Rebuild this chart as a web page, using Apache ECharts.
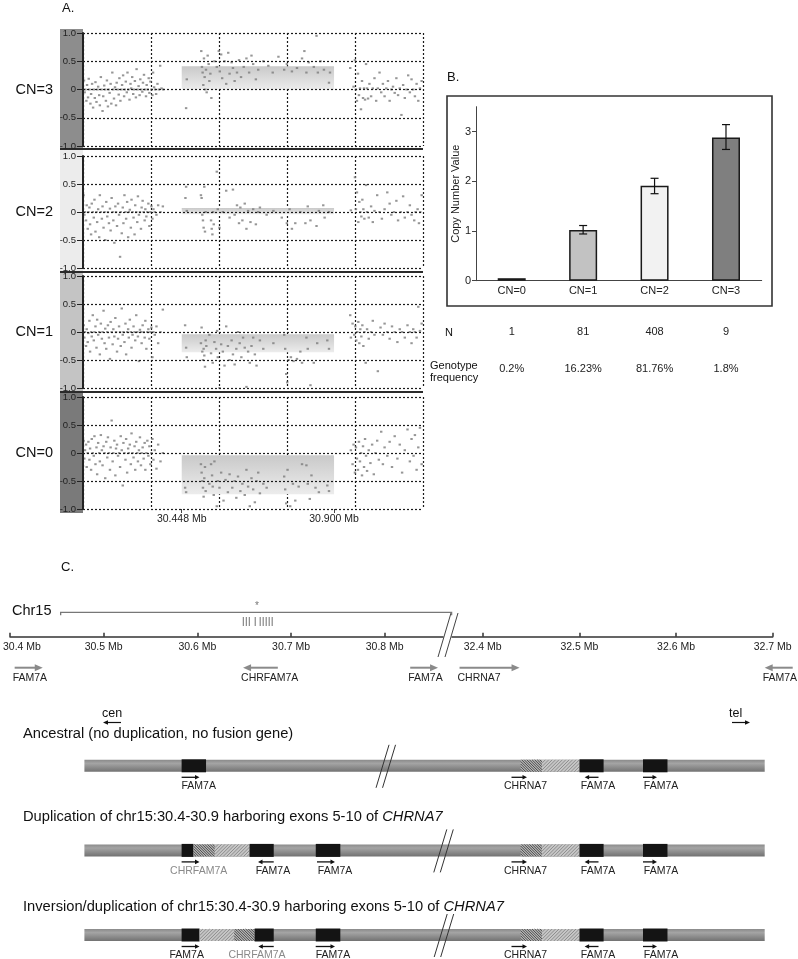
<!DOCTYPE html>
<html>
<head>
<meta charset="utf-8">
<title>CHRFAM7A copy number</title>
<script src="https://cdn.jsdelivr.net/npm/echarts@6.0.0/dist/echarts.min.js"></script>
<style>
html,body{margin:0;padding:0;background:#ffffff;}
#chart{width:798px;height:959px;}
</style>
</head>
<body>
<div id="chart"></div>
<script>
// ================= DATA =================
// Panel A: log2 ratio probes (x = position in Mb, y = log2 ratio)
const panelLabels = ['CN=3', 'CN=2', 'CN=1', 'CN=0'];

const cn3Points = [
[30.158,0.16],[30.160,-0.05],[30.162,0.0],[30.165,-0.2],[30.167,0.08],[30.170,-0.14],[30.172,0.19],[30.174,0.0],[30.177,-0.25],[30.179,-0.08],[30.182,0.1],[30.185,-0.32],[30.187,0.0],[30.190,-0.15],[30.192,0.13],[30.195,-0.22],[30.198,0.0],[30.200,0.05],[30.203,-0.1],[30.205,-0.28],[30.208,0.22],[30.210,0.0],[30.213,-0.38],[30.215,-0.12],[30.218,0.07],[30.221,0.0],[30.223,-0.2],[30.226,0.16],[30.229,-0.3],[30.231,0.0],[30.234,-0.06],[30.237,0.1],[30.239,-0.25],[30.242,0.3],[30.245,0.0],[30.247,-0.16],[30.250,0.04],[30.253,-0.28],[30.255,0.12],[30.258,0.0],[30.261,-0.09],[30.263,0.2],[30.266,-0.2],[30.269,0.0],[30.271,0.08],[30.274,0.25],[30.277,-0.12],[30.279,0.0],[30.282,0.14],[30.285,-0.05],[30.287,0.3],[30.290,0.0],[30.293,-0.18],[30.296,0.1],[30.298,0.02],[30.301,0.22],[30.304,-0.08],[30.306,0.0],[30.309,0.15],[30.312,-0.14],[30.314,0.36],[30.317,0.0],[30.320,0.06],[30.323,-0.1],[30.325,0.18],[30.328,0.0],[30.331,-0.04],[30.333,0.12],[30.336,0.26],[30.339,0.0],[30.342,-0.12],[30.344,0.08],[30.347,0.0],[30.350,0.2],[30.352,-0.06],[30.355,0.14],[30.358,0.0],[30.361,-0.1],[30.363,0.3],[30.366,0.04],[30.369,0.0],[30.372,-0.08],[30.376,0.1],[30.380,0.0],[30.384,0.42],[30.388,0.02],[30.393,0.0],
[30.461,-0.33],[30.463,0.18],[30.506,0.68],[30.508,0.4],[30.510,0.3],[30.512,0.08],[30.514,0.55],[30.516,0.22],[30.518,0.0],[30.520,0.35],[30.522,-0.05],[30.525,0.6],[30.528,0.45],[30.530,0.15],[30.533,0.28],[30.536,-0.15],[30.545,0.5],[30.552,0.4],[30.558,0.68],[30.561,0.32],[30.565,0.62],[30.568,0.2],[30.575,0.5],[30.580,0.1],[30.586,0.65],[30.590,0.28],[30.596,0.48],[30.600,0.38],[30.605,0.15],[30.612,0.3],[30.618,0.52],[30.624,0.22],[30.632,0.4],[30.640,0.55],[30.648,0.3],[30.655,0.6],[30.660,0.45],[30.668,0.18],[30.675,0.35],[30.690,0.5],[30.705,0.42],[30.718,0.3],[30.735,0.58],[30.752,0.35],[30.760,0.45],[30.775,0.32],[30.790,0.38],[30.805,0.55],[30.812,0.68],[30.818,0.3],[30.825,0.48],[30.848,0.95],[30.840,0.4],[30.852,0.3],[30.860,0.5],[30.870,0.35],[30.885,0.12],[30.888,0.3],
[30.948,0.38],[30.958,0.05],[30.962,0.52],[30.965,0.0],[30.968,-0.2],[30.971,0.28],[30.974,-0.1],[30.977,0.02],[30.980,-0.35],[30.983,0.15],[30.986,-0.15],[30.989,0.02],[30.992,-0.18],[30.995,0.45],[30.998,0.02],[31.001,-0.16],[31.005,0.1],[31.010,-0.12],[31.015,0.02],[31.020,0.2],[31.025,-0.2],[31.030,0.02],[31.035,0.3],[31.040,-0.05],[31.045,0.1],[31.050,-0.12],[31.055,0.02],[31.060,0.15],[31.065,-0.2],[31.070,0.0],[31.075,0.05],[31.080,-0.06],[31.085,0.2],[31.090,-0.1],[31.095,0.02],[31.100,-0.45],[31.105,0.08],[31.110,-0.15],[31.115,0.0],[31.120,0.25],[31.125,-0.05],[31.130,0.18],[31.135,0.0],[31.140,-0.12],[31.145,0.1],[31.150,-0.2],[31.155,0.02],[31.160,0.15]
];

const cn2Points = [
[30.157,0.3],[30.159,-0.05],[30.161,0.0],[30.164,-0.15],[30.166,0.12],[30.169,-0.3],[30.171,0.0],[30.174,0.08],[30.176,-0.22],[30.179,-0.4],[30.181,0.15],[30.184,0.0],[30.187,-0.1],[30.189,0.22],[30.192,-0.35],[30.195,0.0],[30.197,-0.18],[30.200,0.05],[30.203,-0.45],[30.205,0.3],[30.208,0.0],[30.211,-0.12],[30.213,0.1],[30.216,-0.28],[30.219,0.0],[30.221,-0.5],[30.224,0.18],[30.227,-0.08],[30.229,0.0],[30.232,-0.2],[30.235,0.06],[30.237,-0.33],[30.240,0.25],[30.243,0.0],[30.245,-0.15],[30.248,-0.55],[30.251,0.1],[30.253,0.0],[30.256,-0.25],[30.259,0.15],[30.262,-0.05],[30.265,-0.8],[30.267,0.0],[30.270,-0.38],[30.273,0.08],[30.275,-0.2],[30.278,0.3],[30.281,0.0],[30.283,-0.12],[30.286,0.18],[30.289,-0.45],[30.291,0.0],[30.294,0.04],[30.297,-0.28],[30.299,0.22],[30.302,0.0],[30.305,-0.1],[30.308,-0.4],[30.310,0.12],[30.313,0.0],[30.316,-0.18],[30.318,0.28],[30.321,-0.05],[30.324,0.0],[30.327,-0.3],[30.329,0.08],[30.332,0.2],[30.335,0.0],[30.338,-0.15],[30.340,0.05],[30.343,-0.08],[30.346,0.0],[30.349,0.15],[30.352,-0.25],[30.355,0.0],[30.358,0.1],[30.361,-0.12],[30.364,0.05],[30.368,0.0],[30.373,-0.05],[30.378,0.12],[30.385,0.0],[30.392,0.1],
[30.459,0.25],[30.461,0.45],[30.463,0.02],[30.505,0.3],[30.507,0.25],[30.509,-0.05],[30.511,-0.15],[30.513,-0.28],[30.515,0.45],[30.517,-0.35],[30.519,0.0],[30.535,-0.15],[30.537,-0.3],[30.539,-0.4],[30.541,0.0],[30.543,-0.22],[30.552,0.72],[30.555,0.05],[30.560,-0.28],[30.570,0.0],[30.580,0.38],[30.590,-0.1],[30.600,0.4],[30.605,-0.05],[30.612,0.12],[30.618,-0.2],[30.622,0.08],[30.628,-0.15],[30.635,0.15],[30.640,-0.3],[30.645,0.02],[30.652,-0.18],[30.660,0.05],[30.668,-0.22],[30.675,0.0],[30.680,0.08],[30.700,-0.05],[30.720,0.02],[30.745,-0.1],[30.760,-0.2],[30.768,0.05],[30.775,-0.3],[30.785,-0.2],[30.800,0.0],[30.815,-0.2],[30.822,0.1],[30.830,-0.15],[30.848,-0.25],[30.855,0.02],[30.868,0.12],[30.872,-0.1],[30.885,0.0],
[30.950,0.03],[30.962,0.62],[30.965,0.05],[30.968,0.35],[30.972,-0.18],[30.975,0.18],[30.978,0.0],[30.981,-0.08],[30.984,0.22],[30.987,0.05],[30.990,-0.12],[30.995,0.48],[30.998,0.0],[31.003,-0.1],[31.010,0.1],[31.015,-0.18],[31.020,0.02],[31.028,0.3],[31.035,0.0],[31.042,-0.12],[31.050,0.05],[31.058,0.35],[31.065,0.15],[31.070,-0.05],[31.078,0.0],[31.085,0.2],[31.090,-0.15],[31.098,0.0],[31.105,0.28],[31.110,-0.1],[31.118,0.0],[31.125,0.12],[31.130,-0.05],[31.138,-0.15],[31.142,0.0],[31.148,0.05],[31.152,-0.2],[31.156,0.0],[31.160,0.3]
];

const cn1Points = [
[30.157,0.12],[30.159,-0.1],[30.161,0.0],[30.164,-0.25],[30.166,0.05],[30.169,-0.18],[30.171,-0.02],[30.174,0.2],[30.176,-0.35],[30.179,0.0],[30.181,-0.08],[30.184,0.3],[30.187,-0.15],[30.189,0.0],[30.192,0.1],[30.195,-0.28],[30.197,0.22],[30.200,-0.05],[30.203,0.0],[30.205,-0.4],[30.208,0.15],[30.211,-0.12],[30.213,0.0],[30.216,0.38],[30.219,-0.2],[30.221,0.06],[30.224,-0.3],[30.227,0.0],[30.229,0.12],[30.232,-0.1],[30.235,-0.48],[30.237,0.18],[30.240,0.0],[30.243,-0.22],[30.245,0.05],[30.248,-0.08],[30.251,0.25],[30.253,0.0],[30.256,-0.35],[30.259,-0.12],[30.262,0.1],[30.265,0.0],[30.267,-0.25],[30.270,0.42],[30.273,-0.05],[30.275,0.0],[30.278,-0.18],[30.281,0.15],[30.283,-0.4],[30.286,0.0],[30.289,0.05],[30.291,-0.1],[30.294,0.22],[30.297,0.0],[30.299,-0.28],[30.302,-0.05],[30.305,0.1],[30.308,0.0],[30.310,-0.15],[30.313,0.3],[30.316,0.0],[30.318,-0.08],[30.321,-0.52],[30.324,0.04],[30.327,0.0],[30.329,-0.2],[30.332,0.12],[30.335,0.0],[30.338,-0.1],[30.340,0.2],[30.343,-0.3],[30.346,0.0],[30.349,0.05],[30.352,-0.12],[30.355,0.0],[30.358,0.08],[30.361,-0.45],[30.364,0.0],[30.368,-0.05],[30.373,0.1],[30.378,-0.2],[30.385,0.0],[30.392,0.4],
[30.458,0.12],[30.461,-0.28],[30.463,-0.45],[30.505,-0.2],[30.507,0.08],[30.509,-0.35],[30.511,-0.5],[30.513,-0.3],[30.515,-0.42],[30.517,-0.62],[30.519,-0.15],[30.521,-0.25],[30.530,-0.05],[30.535,-0.38],[30.540,-0.55],[30.545,-0.18],[30.550,-0.3],[30.553,0.02],[30.555,-0.45],[30.560,-1.0],[30.565,-0.22],[30.570,-0.35],[30.575,-0.6],[30.580,0.1],[30.585,-0.25],[30.590,-0.5],[30.596,-0.15],[30.600,-0.4],[30.605,-0.58],[30.610,-0.3],[30.615,0.0],[30.620,-0.2],[30.625,-0.45],[30.630,-0.1],[30.635,-0.28],[30.640,-0.98],[30.645,-0.35],[30.650,-0.55],[30.655,-0.25],[30.660,-0.1],[30.665,-0.4],[30.670,-0.6],[30.680,-0.15],[30.690,-0.3],[30.720,-0.2],[30.752,-0.05],[30.755,-0.3],[30.758,-0.75],[30.761,-0.9],[30.765,-0.5],[30.772,-0.45],[30.780,-0.52],[30.790,-0.48],[30.800,-0.35],[30.805,-0.55],[30.818,-0.1],[30.822,-0.3],[30.830,-0.95],[30.840,-0.55],[30.850,-0.2],[30.880,-0.15],[30.885,-0.3],
[30.948,0.3],[30.950,-0.1],[30.955,0.15],[30.960,-0.05],[30.963,0.1],[30.966,-0.15],[30.969,0.0],[30.972,0.18],[30.975,-0.2],[30.978,0.05],[30.981,-0.08],[30.984,0.12],[30.987,-0.25],[30.990,0.0],[30.994,-0.55],[30.998,0.05],[31.003,-0.12],[31.010,0.0],[31.015,0.2],[31.020,-0.05],[31.030,-0.7],[31.038,0.08],[31.045,-0.05],[31.050,0.15],[31.058,0.0],[31.065,-0.12],[31.072,0.1],[31.080,0.0],[31.088,-0.18],[31.095,0.05],[31.102,0.0],[31.110,-0.1],[31.118,0.12],[31.125,0.0],[31.130,-0.2],[31.135,0.05],[31.140,0.0],[31.145,-0.1],[31.150,0.45],[31.155,0.02],[31.160,0.15]
];

const cn0Points = [
[30.157,0.22],[30.159,-0.1],[30.161,0.05],[30.164,0.15],[30.166,-0.25],[30.169,0.0],[30.171,0.2],[30.174,-0.12],[30.176,0.08],[30.179,-0.3],[30.181,0.25],[30.184,0.0],[30.187,-0.05],[30.189,0.3],[30.192,-0.2],[30.195,0.1],[30.197,-0.38],[30.200,0.18],[30.203,0.0],[30.205,-0.15],[30.208,0.32],[30.211,0.05],[30.213,-0.22],[30.216,0.12],[30.219,0.0],[30.221,-0.45],[30.224,0.2],[30.227,-0.08],[30.229,0.28],[30.232,0.0],[30.235,-0.3],[30.237,0.1],[30.240,0.58],[30.243,-0.15],[30.245,0.0],[30.248,0.22],[30.251,-0.4],[30.253,0.08],[30.256,0.15],[30.259,-0.05],[30.262,0.0],[30.265,-0.25],[30.267,0.3],[30.270,0.05],[30.273,-0.58],[30.275,0.18],[30.278,0.0],[30.281,-0.12],[30.283,0.25],[30.286,-0.35],[30.289,0.08],[30.291,0.0],[30.294,0.15],[30.297,-0.2],[30.299,0.35],[30.302,0.0],[30.305,-0.08],[30.308,0.12],[30.310,-0.3],[30.313,0.2],[30.316,0.0],[30.318,-0.15],[30.321,0.05],[30.324,0.28],[30.327,-0.22],[30.329,0.0],[30.332,0.1],[30.335,-0.1],[30.338,0.18],[30.340,-0.3],[30.343,0.0],[30.346,0.22],[30.349,-0.05],[30.352,0.12],[30.355,-0.2],[30.358,0.0],[30.361,0.25],[30.364,-0.12],[30.368,0.05],[30.373,-0.28],[30.378,0.15],[30.385,-0.15],[30.392,0.0],
[30.458,-0.62],[30.461,-0.7],[30.505,-0.2],[30.507,-0.35],[30.509,-0.5],[30.511,-0.62],[30.513,-0.78],[30.515,-0.45],[30.517,-0.25],[30.519,-0.68],[30.530,-0.55],[30.535,-0.2],[30.538,-0.4],[30.540,-0.6],[30.543,-0.75],[30.545,-0.15],[30.552,-0.95],[30.555,-0.5],[30.560,-0.62],[30.565,-0.35],[30.572,-0.85],[30.578,-0.48],[30.585,-0.7],[30.590,-0.38],[30.598,-0.62],[30.605,-0.5],[30.610,-0.8],[30.615,-0.42],[30.622,-0.68],[30.628,-0.55],[30.635,-0.75],[30.640,-0.3],[30.645,-0.6],[30.650,-0.95],[30.655,-0.45],[30.660,-0.65],[30.665,-0.88],[30.670,-0.5],[30.675,-0.35],[30.680,-0.72],[30.690,-0.55],[30.700,-0.62],[30.752,-0.42],[30.755,-0.65],[30.758,-0.9],[30.762,-0.3],[30.770,-0.95],[30.778,-0.55],[30.785,-0.85],[30.795,-0.6],[30.805,-0.2],[30.818,-0.22],[30.822,-0.55],[30.828,-0.82],[30.833,-0.4],[30.845,-0.62],[30.855,-0.7],[30.880,-0.58],[30.885,-0.68],
[30.950,0.05],[30.955,-0.2],[30.958,0.15],[30.962,-0.35],[30.965,0.1],[30.968,-0.1],[30.971,-0.3],[30.974,0.2],[30.977,-0.15],[30.980,0.0],[30.983,-0.4],[30.986,0.12],[30.989,-0.25],[30.992,0.25],[30.995,-0.05],[30.998,-0.32],[31.003,0.05],[31.008,-0.18],[31.013,0.15],[31.018,-0.38],[31.023,0.0],[31.028,0.22],[31.033,-0.12],[31.040,0.38],[31.045,-0.2],[31.050,0.1],[31.058,-0.05],[31.065,0.2],[31.072,-0.25],[31.080,0.3],[31.088,-0.1],[31.095,0.15],[31.102,-0.35],[31.110,0.05],[31.118,0.42],[31.125,-0.15],[31.130,0.25],[31.136,-0.05],[31.140,0.32],[31.145,-0.3],[31.150,0.1],[31.155,0.45],[31.160,-0.2]
];

// segment calls [startMb, endMb, lowRatio, highRatio]
const segmentCalls = [
  [30.448, 30.900, 0.00, 0.41],
  [30.448, 30.900, -0.04, 0.07],
  [30.448, 30.900, -0.36, -0.04],
  [30.448, 30.900, -0.735, -0.04]
];
const positionTicks = [30.448, 30.900];

// Panel B
const cnCategories = ['CN=0', 'CN=1', 'CN=2', 'CN=3'];
const cnMeans = [0.05, 1.02, 1.91, 2.88];
const errLow = [null, 0.94, 1.75, 2.64];
const errHigh = [null, 1.11, 2.06, 3.14];
const nCounts = ['1', '81', '408', '9'];
const genotypeFreq = ['0.2%', '16.23%', '81.76%', '1.8%'];
const copyTicks = [0, 1, 2, 3];

// Panel C (top map)
const proxTicks = [30.4, 30.5, 30.6, 30.7, 30.8];
const distTicks = [32.4, 32.5, 32.6, 32.7];
const chr15Span = [30.4541, 30.8714];
const probeMarks = [30.6491, 30.6523, 30.6555, 30.6618, 30.6671, 30.6703, 30.6735, 30.6767, 30.6799];
const asteriskMb = 30.6637;
// [name, startMb, endMb, strand, segment(0 = 30.4-30.9, 1 = 32.4-32.7)]
const genesTop = [
  ['FAM7A', 30.405, 30.435, 1, 0],
  ['CHRFAM7A', 30.6488, 30.6859, -1, 0],
  ['FAM7A', 30.8272, 30.8569, 1, 0],
  ['CHRNA7', 32.3760, 32.4381, 1, 1],
  ['FAM7A', 32.6917, 32.7207, -1, 1]
];

// Panel C (schematic, x in schematic units 0-100)
const diagramTitles = [
  'Ancestral (no duplication, no fusion gene)',
  'Duplication of chr15:30.4-30.9 harboring exons 5-10 of {i|CHRNA7}',
  'Inversion/duplication of chr15:30.4-30.9 harboring exons 5-10 of {i|CHRNA7}'
];
// [row, start, end, kind]
const diagramBlocks = [
  [0, 14.29, 17.88, 'box'], [0, 64.13, 67.26, 'dense'], [0, 67.26, 72.78, 'light'], [0, 72.78, 76.32, 'box'], [0, 82.11, 85.71, 'box'],
  [1, 14.29, 16.03, 'box'], [1, 16.03, 19.17, 'dense'], [1, 19.17, 24.28, 'light'], [1, 24.28, 27.83, 'box'], [1, 34.01, 37.62, 'box'],
  [1, 64.13, 67.26, 'dense'], [1, 67.26, 72.78, 'light'], [1, 72.78, 76.32, 'box'], [1, 82.11, 85.71, 'box'],
  [2, 14.29, 16.92, 'box'], [2, 16.92, 22.03, 'light'], [2, 22.03, 25.03, 'dense'], [2, 25.03, 27.83, 'box'], [2, 34.01, 37.62, 'box'],
  [2, 64.13, 67.26, 'dense'], [2, 67.26, 72.78, 'light'], [2, 72.78, 76.32, 'box'], [2, 82.11, 85.71, 'box']
];
// [row, arrowStart, arrowEnd, strand, labelCenter, name, fusion]
const diagramGenes = [
  [0, 14.29, 16.92, 1, 16.8, 'FAM7A', 0], [0, 62.78, 65.06, 1, 64.85, 'CHRNA7', 0], [0, 73.53, 75.57, -1, 75.5, 'FAM7A', 0], [0, 82.11, 84.17, 1, 84.76, 'FAM7A', 0],
  [1, 14.29, 16.92, 1, 16.8, 'CHRFAM7A', 1], [1, 25.52, 27.83, -1, 27.72, 'FAM7A', 0], [1, 34.19, 36.84, 1, 36.84, 'FAM7A', 0],
  [1, 62.78, 65.06, 1, 64.85, 'CHRNA7', 0], [1, 73.53, 75.57, -1, 75.5, 'FAM7A', 0], [1, 82.11, 84.17, 1, 84.76, 'FAM7A', 0],
  [2, 14.29, 16.92, 1, 15.04, 'FAM7A', 0], [2, 25.56, 27.83, -1, 25.37, 'CHRFAM7A', 1], [2, 34.0, 36.84, 1, 36.54, 'FAM7A', 0],
  [2, 62.78, 65.06, 1, 64.85, 'CHRNA7', 0], [2, 73.53, 75.57, -1, 75.5, 'FAM7A', 0], [2, 82.11, 84.17, 1, 84.76, 'FAM7A', 0]
];
const diagramBreaks = [[0, 43.75], [1, 52.24], [2, 52.3]];

// ================= CHART =================
const FONT = '"Liberation Sans", Arial, Helvetica, sans-serif';
const chart = echarts.init(document.getElementById('chart'), null, {renderer: 'canvas', width: 798, height: 959});

const dotted = {color: '#1a1a1a', width: 1.2, type: [2, 2]};
const stripColors = ['#8d8d8d', '#ececec', '#c4c4c4', '#7a7a7a'];
const barFills = ['#7a7a7a', '#c2c2c2', '#f2f2f2', '#7f7f7f'];
const aTop = [33, 156, 276, 397];
const aHeight = [113, 112, 112, 112];
const pointsByPanel = [cn3Points, cn2Points, cn1Points, cn0Points];

const grids = [];
const xAxes = [];
const yAxes = [];
const series = [];

for (let i = 0; i < 4; i++) grids.push({left: 83, width: 340, top: aTop[i], height: aHeight[i]});
grids.push({left: 476, width: 285.7, top: 106.7, height: 174});       // 4: panel B
grids.push({left: 7, width: 436, top: 600, height: 36.7});             // 5: map proximal
grids.push({left: 452, width: 320.7, top: 600, height: 36.7});         // 6: map distal
grids.push({left: 84.4, width: 680.3, top: 765.8, height: 169.2});     // 7: schematic

// Panel A axes
for (let i = 0; i < 4; i++) {
  xAxes.push({
    gridIndex: i, type: 'value', min: 30.155, max: 31.164, position: 'bottom',
    axisLine: {show: false, onZero: false},
    axisTick: {show: i === 3, customValues: positionTicks, length: 4, lineStyle: {color: '#444'}},
    axisLabel: {show: i === 3, customValues: positionTicks, formatter: v => v.toFixed(3) + ' Mb',
      fontSize: 10.5, color: '#222', fontFamily: FONT, margin: 5},
    splitLine: {show: false}
  });
}
for (let i = 0; i < 4; i++) {
  xAxes.push({
    gridIndex: i, type: 'value', min: 0, max: 5, interval: 1, position: 'top',
    axisLine: {show: false, onZero: false}, axisTick: {show: false}, axisLabel: {show: false},
    splitLine: {show: true, showMinLine: true, showMaxLine: true, lineStyle: dotted}
  });
}
for (let i = 0; i < 4; i++) {
  yAxes.push({
    gridIndex: i, type: 'value', min: -1, max: 1, interval: 0.5, z: 10,
    name: panelLabels[i], nameLocation: 'middle', nameGap: 30, nameRotate: 0,
    nameTextStyle: {fontSize: 14.5, color: '#111', fontFamily: FONT},
    axisLine: {show: true, onZero: false, lineStyle: {color: '#222', width: 2}},
    axisTick: {show: true, length: 6, lineStyle: {color: '#222', width: 1}},
    axisLabel: {fontSize: 9.5, color: '#222', fontFamily: FONT, margin: 7, showMinLabel: true, showMaxLabel: true,
      formatter: v => (v === 0 ? '0' : v.toFixed(1))},
    splitLine: {show: true, showMinLine: true, showMaxLine: true, lineStyle: dotted}
  });
}

// Panel B axes (x 8,9,10 ; y 4)
xAxes.push({
  gridIndex: 4, type: 'category', data: cnCategories,
  axisLine: {lineStyle: {color: '#444', width: 1}},
  axisTick: {length: 4, lineStyle: {color: '#444'}},
  axisLabel: {fontSize: 11, color: '#222', fontFamily: FONT, margin: 5}
});
xAxes.push({
  gridIndex: 4, type: 'category', data: nCounts, position: 'bottom', offset: 38,
  axisLine: {show: false}, axisTick: {show: false},
  axisLabel: {interval: 0, fontSize: 11, color: '#222', fontFamily: FONT, margin: 8}
});
xAxes.push({
  gridIndex: 4, type: 'category', data: genotypeFreq, position: 'bottom', offset: 74.5,
  axisLine: {show: false}, axisTick: {show: false},
  axisLabel: {interval: 0, fontSize: 11, color: '#222', fontFamily: FONT, margin: 8}
});
yAxes.push({
  gridIndex: 4, type: 'value', min: 0, max: 3.5,
  name: 'Copy Number Value', nameLocation: 'middle', nameGap: 9,
  nameTextStyle: {fontSize: 11, color: '#222', fontFamily: FONT},
  axisLine: {show: true, lineStyle: {color: '#444', width: 1}},
  axisTick: {show: true, length: 4, customValues: copyTicks, lineStyle: {color: '#444'}},
  axisLabel: {customValues: copyTicks, fontSize: 11, color: '#222', fontFamily: FONT, margin: 5},
  splitLine: {show: false}
});

// Panel C map axes (x 11,12 ; y 5,6)
xAxes.push({
  gridIndex: 5, type: 'value', min: 30.4, max: 30.8622,
  axisLine: {show: true, onZero: false, lineStyle: {color: '#333', width: 1.5}},
  axisTick: {show: true, inside: true, length: 4, customValues: proxTicks, lineStyle: {color: '#333', width: 1.5}},
  axisLabel: {customValues: proxTicks, fontSize: 10.5, color: '#222', fontFamily: FONT, margin: 5,
    formatter: v => (Math.abs(v - 30.4) < 1e-9 ? '{first|30.4 Mb}' : v.toFixed(1) + ' Mb'),
    rich: {first: {padding: [0, 0, 0, 24], fontSize: 10.5, color: '#222', fontFamily: FONT}}},
  splitLine: {show: false}
});
xAxes.push({
  gridIndex: 6, type: 'value', min: 32.3682, max: 32.7,
  axisLine: {show: true, onZero: false, lineStyle: {color: '#333', width: 1.5}},
  axisTick: {show: true, inside: true, length: 4, customValues: distTicks, lineStyle: {color: '#333', width: 1.5}},
  axisLabel: {customValues: distTicks, fontSize: 10.5, color: '#222', fontFamily: FONT, margin: 5,
    formatter: v => v.toFixed(1) + ' Mb'},
  splitLine: {show: false}
});
yAxes.push({gridIndex: 5, type: 'value', min: 0, max: 1, show: false});
yAxes.push({gridIndex: 6, type: 'value', min: 0, max: 1, show: false});

// Schematic axes (x 13 ; y 7)
xAxes.push({gridIndex: 7, type: 'value', min: 0, max: 100, show: false});
yAxes.push({gridIndex: 7, type: 'value', min: 0, max: 2, inverse: true, show: false});

// ---------- series: panel A ----------
const bandGrad = () => new echarts.graphic.LinearGradient(0, 0, 0, 1, [
  {offset: 0, color: '#c9c9c9'}, {offset: 1, color: '#ececec'}]);
for (let i = 0; i < 4; i++) {
  series.push({
    type: 'custom', xAxisIndex: i, yAxisIndex: i, z: 1, silent: true,
    data: [segmentCalls[i]], encode: {x: [0, 1], y: [2, 3]},
    renderItem: (params, api) => {
      const p0 = api.coord([api.value(0), api.value(3)]);
      const p1 = api.coord([api.value(1), api.value(2)]);
      return {type: 'rect', shape: {x: p0[0], y: p0[1], width: p1[0] - p0[0], height: p1[1] - p0[1]},
        style: {fill: bandGrad()}};
    }
  });
  series.push({
    type: 'scatter', xAxisIndex: i, yAxisIndex: i, z: 3, silent: true,
    symbol: 'rect', symbolSize: [2.4, 2], itemStyle: {color: '#7c7c7c'},
    data: pointsByPanel[i]
  });
}

// ---------- series: panel B ----------
series.push({
  type: 'bar', xAxisIndex: 8, yAxisIndex: 4, barWidth: 28, silent: true,
  itemStyle: {borderColor: '#1a1a1a', borderWidth: 1.5},
  data: cnMeans.map((v, i) => ({value: v, itemStyle: {color: barFills[i]}}))
});
series.push({
  type: 'custom', xAxisIndex: 8, yAxisIndex: 4, z: 5, silent: true,
  data: errLow.map((lo, i) => [i, lo, errHigh[i]]).filter(d => d[1] !== null),
  encode: {x: 0, y: [1, 2]},
  renderItem: (params, api) => {
    const i = api.value(0);
    const top = api.coord([i, api.value(2)]);
    const bot = api.coord([i, api.value(1)]);
    const x = top[0], w = 4;
    const st = {stroke: '#111', lineWidth: 1.2};
    return {type: 'group', children: [
      {type: 'line', shape: {x1: x, y1: top[1], x2: x, y2: bot[1]}, style: st},
      {type: 'line', shape: {x1: x - w, y1: top[1], x2: x + w, y2: top[1]}, style: st},
      {type: 'line', shape: {x1: x - w, y1: bot[1], x2: x + w, y2: bot[1]}, style: st}
    ]};
  }
});

// ---------- series: panel C map ----------
function arrowShapes(xTail, xTip, y, color, lw, headLen, headHalf) {
  const d = xTip > xTail ? 1 : -1;
  return [
    {type: 'line', shape: {x1: xTail, y1: y, x2: xTip - d * headLen * 0.6, y2: y}, style: {stroke: color, lineWidth: lw}},
    {type: 'polygon', shape: {points: [[xTip, y], [xTip - d * headLen, y - headHalf], [xTip - d * headLen, y + headHalf]]},
      style: {fill: color}}
  ];
}
series.push({
  type: 'custom', xAxisIndex: 11, yAxisIndex: 5, clip: false, silent: true,
  data: [[chr15Span[0], chr15Span[1], 0]], encode: {x: [0, 1], y: 2},
  renderItem: (params, api) => {
    const a = api.coord([api.value(0), 0]);
    const b = api.coord([api.value(1), 0]);
    const y = a[1] - 24.4;
    return {type: 'polyline', shape: {points: [[a[0], y + 3], [a[0], y], [b[0], y], [b[0], y + 3]]},
      style: {stroke: '#777', lineWidth: 1.3, fill: null}};
  }
});
series.push({
  type: 'custom', xAxisIndex: 11, yAxisIndex: 5, clip: false, silent: true,
  data: probeMarks.map(m => [m, 0]), encode: {x: 0, y: 1},
  renderItem: (params, api) => {
    const p = api.coord([api.value(0), 0]);
    return {type: 'line', shape: {x1: p[0], y1: p[1] - 19.7, x2: p[0], y2: p[1] - 10.7},
      style: {stroke: '#888', lineWidth: 1.2}};
  }
});
series.push({
  type: 'custom', xAxisIndex: 11, yAxisIndex: 5, clip: false, silent: true,
  data: [[asteriskMb, 0]], encode: {x: 0, y: 1},
  renderItem: (params, api) => {
    const p = api.coord([api.value(0), 0]);
    return {type: 'text', x: p[0], y: p[1] - 30,
      style: {text: '*', fill: '#777', fontSize: 10, fontFamily: FONT, align: 'center', verticalAlign: 'middle'}};
  }
});
function topGeneSeries(list, xi, yi) {
  return {
    type: 'custom', xAxisIndex: xi, yAxisIndex: yi, clip: false, silent: true,
    data: list.map(g => [g[1], g[2], 0]), encode: {x: [0, 1], y: 2},
    renderItem: (params, api) => {
      const g = list[params.dataIndex];
      const a = api.coord([g[1], 0]);
      const b = api.coord([g[2], 0]);
      const y = a[1] + 31;
      const tail = g[3] > 0 ? a[0] : b[0];
      const tip = g[3] > 0 ? b[0] : a[0];
      const kids = arrowShapes(tail, tip, y, '#8a8a8a', 2, 8, 3.5);
      kids.push({type: 'text', x: Math.min(a[0], b[0]) - 2, y: a[1] + 41.6,
        style: {text: g[0], fill: '#222', fontSize: 10.5, fontFamily: FONT, align: 'left', verticalAlign: 'middle'}});
      return {type: 'group', children: kids};
    }
  };
}
series.push(topGeneSeries(genesTop.filter(g => g[4] === 0), 11, 5));
series.push(topGeneSeries(genesTop.filter(g => g[4] === 1), 12, 6));

// ---------- series: schematic ----------
function hatch(x0, y0, x1, y1, step, dir, stroke, lw) {
  const h = y1 - y0, out = [];
  for (let c = x0 - h; c < x1; c += step) {
    const t0 = Math.max(0, x0 - c), t1 = Math.min(h, x1 - c);
    if (t1 <= t0) continue;
    const ya = dir === '/' ? y1 - t0 : y0 + t0;
    const yb = dir === '/' ? y1 - t1 : y0 + t1;
    out.push({type: 'line', shape: {x1: c + t0, y1: ya, x2: c + t1, y2: yb}, style: {stroke: stroke, lineWidth: lw}});
  }
  return out;
}
const rowGrad = () => new echarts.graphic.LinearGradient(0, 0, 0, 1, [
  {offset: 0, color: '#8a8a8a'}, {offset: 0.3, color: '#a4a4a4'}, {offset: 1, color: '#727272'}]);
series.push({
  type: 'custom', xAxisIndex: 13, yAxisIndex: 7, clip: false, silent: true, z: 2,
  data: diagramTitles.map((t, i) => [i, 0, 100]), encode: {x: [1, 2], y: 0},
  renderItem: (params, api) => {
    const row = api.value(0);
    const p0 = api.coord([api.value(1), row]);
    const p1 = api.coord([api.value(2), row]);
    return {type: 'rect', shape: {x: p0[0], y: p0[1] - 6, width: p1[0] - p0[0], height: 12}, style: {fill: rowGrad()}};
  }
});
series.push({
  type: 'custom', xAxisIndex: 13, yAxisIndex: 7, clip: false, silent: true, z: 3,
  data: diagramBlocks.map(b => [b[0], b[1], b[2]]), encode: {x: [1, 2], y: 0},
  renderItem: (params, api) => {
    const b = diagramBlocks[params.dataIndex];
    const p0 = api.coord([b[1], b[0]]);
    const p1 = api.coord([b[2], b[0]]);
    const x0 = p0[0], x1 = p1[0], yc = p0[1];
    if (b[3] === 'box') {
      return {type: 'rect', shape: {x: x0, y: yc - 6.5, width: x1 - x0, height: 13}, style: {fill: '#141414'}};
    }
    const dense = b[3] === 'dense';
    const kids = [{type: 'rect', shape: {x: x0, y: yc - 6, width: x1 - x0, height: 12},
      style: {fill: dense ? '#b5b5b5' : '#c6c6c6'}}];
    return {type: 'group', children: kids.concat(
      dense ? hatch(x0, yc - 6, x1, yc + 6, 2.6, '\\', '#4a4a4a', 1)
            : hatch(x0, yc - 6, x1, yc + 6, 3.4, '/', '#8c8c8c', 1))};
  }
});
series.push({
  type: 'custom', xAxisIndex: 13, yAxisIndex: 7, clip: false, silent: true, z: 4,
  data: diagramBreaks.map(b => [b[0], b[1]]), encode: {x: 1, y: 0},
  renderItem: (params, api) => {
    const p = api.coord([api.value(1), api.value(0)]);
    const kids = [0, 6.5].map(k => ({type: 'line',
      shape: {x1: p[0] - 6 + k, y1: p[1] + 22, x2: p[0] + 7 + k, y2: p[1] - 21},
      style: {stroke: '#333', lineWidth: 1}}));
    return {type: 'group', children: kids};
  }
});
series.push({
  type: 'custom', xAxisIndex: 13, yAxisIndex: 7, clip: false, silent: true, z: 4,
  data: diagramGenes.map(g => [g[0], g[1], g[2]]), encode: {x: [1, 2], y: 0},
  renderItem: (params, api) => {
    const g = diagramGenes[params.dataIndex];
    const a = api.coord([g[1], g[0]]);
    const b = api.coord([g[2], g[0]]);
    const lc = api.coord([g[4], g[0]]);
    const y = a[1] + 11.5;
    const tail = g[3] > 0 ? a[0] : b[0];
    const tip = g[3] > 0 ? b[0] : a[0];
    const kids = arrowShapes(tail, tip, y, '#111', 1.3, 4.5, 2.3);
    kids.push({type: 'text', x: lc[0], y: a[1] + 20.5,
      style: {text: g[5], fill: g[6] ? '#8a8a8a' : '#222', fontSize: 10.5, fontFamily: FONT,
        align: 'center', verticalAlign: 'middle'}});
    return {type: 'group', children: kids};
  }
});

// ---------- decorations ----------
function txt(x, y, text, size, extra) {
  return Object.assign({type: 'text', x: x, y: y, silent: true,
    style: Object.assign({text: text, fill: '#111', fontSize: size, fontFamily: FONT,
      align: 'left', verticalAlign: 'middle', textAlign: 'left', textVerticalAlign: 'middle'}, extra || {})});
}
const stripRanges = [[29, 148], [150, 271], [273, 391], [393, 513]];
const graphics = [];
stripRanges.forEach((r, i) => graphics.push({type: 'rect', z: -10, silent: true,
  shape: {x: 60, y: r[0], width: 23, height: r[1] - r[0]}, style: {fill: stripColors[i]}}));
[149, 272, 392].forEach(y => graphics.push({type: 'line', silent: true,
  shape: {x1: 60, y1: y, x2: 423, y2: y}, style: {stroke: '#2a2a2a', lineWidth: 2}}));
graphics.push(txt(62, 8, 'A.', 13));
graphics.push(txt(447, 77.5, 'B.', 13));
graphics.push({type: 'rect', silent: true, shape: {x: 447, y: 96, width: 325, height: 210},
  style: {fill: null, stroke: '#333', lineWidth: 1.6}});
graphics.push(txt(445, 333.3, 'N', 11));
graphics.push(txt(430, 372, 'Genotype\nfrequency', 11, {lineHeight: 12.5}));
graphics.push(txt(61, 567, 'C.', 13));
graphics.push(txt(12, 611, 'Chr15', 14.5));
graphics.push({type: 'line', silent: true, shape: {x1: 438, y1: 657, x2: 451, y2: 613}, style: {stroke: '#444', lineWidth: 1}});
graphics.push({type: 'line', silent: true, shape: {x1: 445, y1: 657, x2: 458, y2: 613}, style: {stroke: '#444', lineWidth: 1}});
graphics.push(txt(102, 713.5, 'cen', 12.5));
graphics.push({type: 'line', silent: true, shape: {x1: 121, y1: 722.5, x2: 107, y2: 722.5}, style: {stroke: '#111', lineWidth: 1.2}});
graphics.push({type: 'polygon', silent: true, shape: {points: [[103, 722.5], [108, 720.3], [108, 724.7]]}, style: {fill: '#111'}});
graphics.push(txt(729, 713.5, 'tel', 12.5));
graphics.push({type: 'line', silent: true, shape: {x1: 732, y1: 722.5, x2: 746, y2: 722.5}, style: {stroke: '#111', lineWidth: 1.2}});
graphics.push({type: 'polygon', silent: true, shape: {points: [[750, 722.5], [745, 720.3], [745, 724.7]]}, style: {fill: '#111'}});
const titleY = [734, 816.7, 906.5];
diagramTitles.forEach((t, i) => graphics.push(txt(23, titleY[i], t, 14.7,
  {rich: {i: {fontStyle: 'italic', fontSize: 14.7, fontFamily: FONT, fill: '#111'}}})));

chart.setOption({
  animation: false,
  backgroundColor: '#ffffff',
  textStyle: {fontFamily: FONT},
  grid: grids,
  xAxis: xAxes,
  yAxis: yAxes,
  series: series,
  graphic: {elements: graphics}
});
</script>
</body>
</html>
